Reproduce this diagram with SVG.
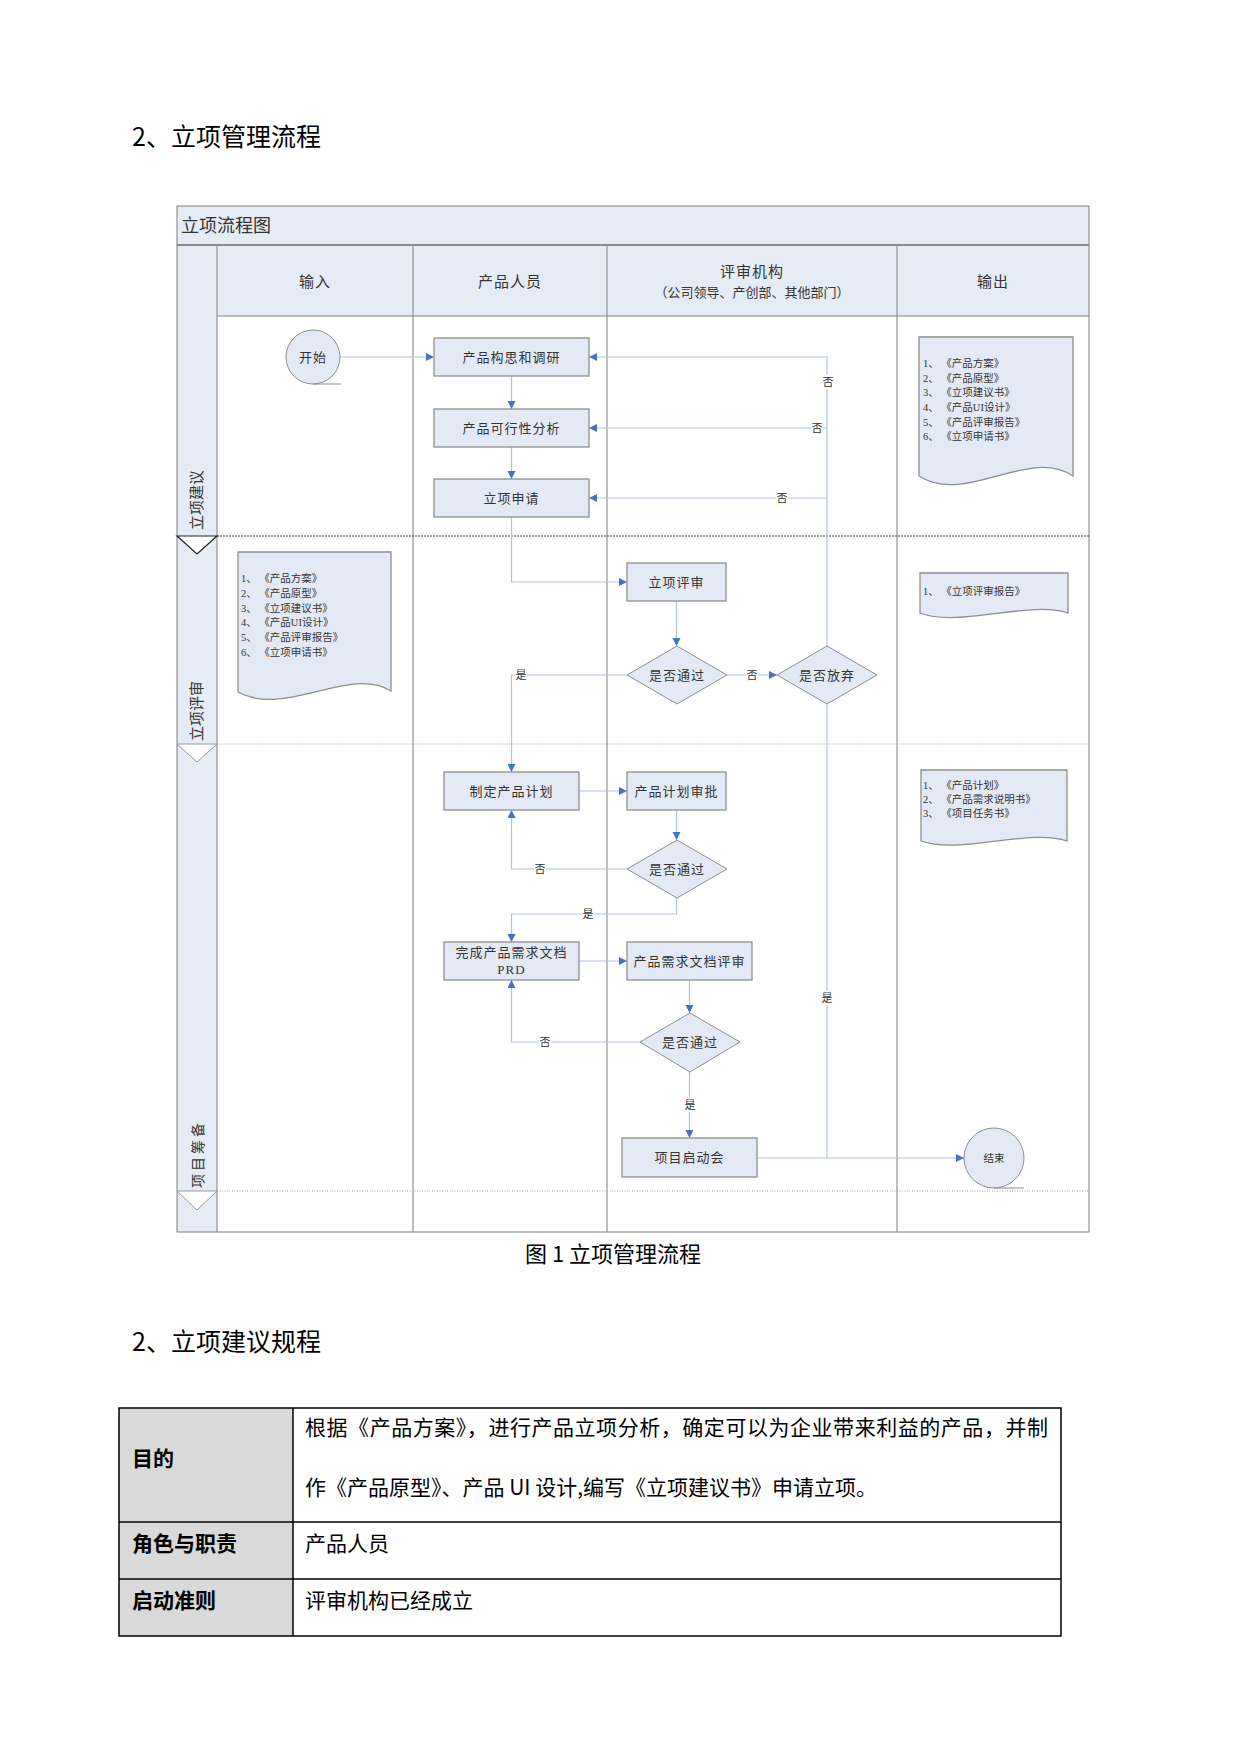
<svg xmlns="http://www.w3.org/2000/svg" width="1241" height="1755" viewBox="0 0 1241 1755">
<style>
.doc-h{font-family:"Noto Sans CJK SC","Liberation Sans",sans-serif;fill:#000}
.dg{font-family:"Liberation Serif","Noto Sans CJK SC",sans-serif;fill:#333}
.box{fill:#E4EAF5;stroke:#8E8E8E;stroke-width:1.3}
.dia{fill:#E4EAF5;stroke:#8E8E8E;stroke-width:1}
.band{fill:#E6ECF6}
.grid{stroke:#7F7F7F;stroke-width:1;fill:none}
.con{stroke:#AFC3E6;stroke-width:1.2;fill:none}
.lbl{font-size:11px;text-anchor:middle;dominant-baseline:central}
.lblbg{fill:#fff}
.t13{font-size:13px;text-anchor:middle;dominant-baseline:central;letter-spacing:1px}
.doct{font-size:10.5px;fill:#333}
.cell{stroke:#000;stroke-width:1.5;fill:none}
</style>
<defs>
<marker id="arr" markerUnits="userSpaceOnUse" markerWidth="9" markerHeight="9" refX="8" refY="4" orient="auto">
<path d="M0,0 L8,4 L0,8 z" fill="#4472C4"/>
</marker>
</defs>
<rect width="1241" height="1755" fill="#fff"/>

<text class="doc-h" x="132" y="146" font-size="25">2、立项管理流程</text>

<g id="frame">
<rect x="177" y="206" width="912" height="39" class="band"/>
<rect x="177" y="245" width="40" height="987" class="band"/>
<rect x="217" y="245" width="872" height="71" class="band"/>
<text class="dg" x="181" y="226" font-size="18" dominant-baseline="central">立项流程图</text>
<rect x="177" y="206" width="912" height="1026" class="grid"/>
<line x1="177" y1="245" x2="1089" y2="245" stroke="#8A8A8A" stroke-width="2.2"/>
<line x1="217" y1="245" x2="217" y2="1232" class="grid"/>
<line x1="217" y1="316" x2="1089" y2="316" class="grid"/>
<line x1="413" y1="245" x2="413" y2="1232" class="grid"/>
<line x1="607" y1="245" x2="607" y2="1232" class="grid" stroke-width="1.4"/>
<line x1="897" y1="245" x2="897" y2="1232" class="grid"/>
<line x1="217" y1="536" x2="1089" y2="536" stroke="#444" stroke-width="1" stroke-dasharray="2,1"/>
<line x1="217" y1="744" x2="1089" y2="744" stroke="#A0A0A0" stroke-width="1" stroke-dasharray="1,1.5"/>
<line x1="217" y1="1191" x2="1089" y2="1191" stroke="#A0A0A0" stroke-width="1" stroke-dasharray="1,1.5"/>
<polygon points="177,536 197,554 217,536" fill="#fff" stroke="#222" stroke-width="1.2"/>
<polygon points="177,744 197,762 217,744" fill="#fff" stroke="#999" stroke-width="1"/>
<polygon points="177,1191 197,1210 217,1191" fill="#fff" stroke="#999" stroke-width="1"/>
<text class="dg" font-size="15" text-anchor="middle" dominant-baseline="central" transform="translate(197,500) rotate(-90)">立项建议</text>
<text class="dg" font-size="15" text-anchor="middle" dominant-baseline="central" transform="translate(197,711) rotate(-90)">立项评审</text>
<text class="dg" font-size="14" text-anchor="middle" dominant-baseline="central" letter-spacing="3" transform="translate(198,1154) rotate(-90)">项目筹备</text>
<text class="dg" x="315" y="282" font-size="15" text-anchor="middle" dominant-baseline="central" letter-spacing="1">输入</text>
<text class="dg" x="510" y="282" font-size="15" text-anchor="middle" dominant-baseline="central" letter-spacing="1">产品人员</text>
<text class="dg" x="752" y="272" font-size="15" text-anchor="middle" dominant-baseline="central" letter-spacing="1">评审机构</text>
<text class="dg" x="752" y="292" font-size="13" text-anchor="middle" dominant-baseline="central">（公司领导、产创部、其他部门）</text>
<text class="dg" x="993" y="282" font-size="15" text-anchor="middle" dominant-baseline="central" letter-spacing="1">输出</text>
</g>

<g id="connectors">
<line x1="340" y1="357" x2="434" y2="357" class="con" marker-end="url(#arr)"/>
<line x1="511.5" y1="376" x2="511.5" y2="409" class="con" marker-end="url(#arr)"/>
<line x1="511.5" y1="447" x2="511.5" y2="479" class="con" marker-end="url(#arr)"/>
<path d="M511.5,517 V582 H627" class="con" marker-end="url(#arr)"/>
<line x1="676.5" y1="601" x2="676.5" y2="646" class="con" marker-end="url(#arr)"/>
<line x1="727" y1="675" x2="777" y2="675" class="con" marker-end="url(#arr)"/>
<path d="M627,675 H511.5 V772" class="con" marker-end="url(#arr)"/>
<path d="M827,646 V357 H589" class="con" marker-end="url(#arr)"/>
<path d="M827,428 H589" class="con" marker-end="url(#arr)"/>
<path d="M827,498 H589" class="con" marker-end="url(#arr)"/>
<path d="M827,704 V1158" class="con"/>
<line x1="579" y1="791" x2="627" y2="791" class="con" marker-end="url(#arr)"/>
<line x1="676.5" y1="810" x2="676.5" y2="840" class="con" marker-end="url(#arr)"/>
<path d="M627,869 H511.5 V810" class="con" marker-end="url(#arr)"/>
<path d="M676.5,898 V914 H511.5 V942" class="con" marker-end="url(#arr)"/>
<line x1="579" y1="961" x2="627" y2="961" class="con" marker-end="url(#arr)"/>
<line x1="689.5" y1="980" x2="689.5" y2="1013" class="con" marker-end="url(#arr)"/>
<path d="M640,1042 H511.5 V980" class="con" marker-end="url(#arr)"/>
<line x1="689.5" y1="1072" x2="689.5" y2="1138" class="con" marker-end="url(#arr)"/>
<line x1="757" y1="1158" x2="964" y2="1158" class="con" marker-end="url(#arr)"/>
<g class="dg">
<rect x="822" y="375" width="12" height="14" class="lblbg"/><text class="lbl" x="828" y="382">否</text>
<rect x="811" y="421" width="12" height="14" class="lblbg"/><text class="lbl" x="817" y="428">否</text>
<rect x="776" y="491" width="12" height="14" class="lblbg"/><text class="lbl" x="782" y="498">否</text>
<rect x="746" y="668" width="12" height="14" class="lblbg"/><text class="lbl" x="752" y="675">否</text>
<rect x="515" y="668" width="12" height="14" class="lblbg"/><text class="lbl" x="521" y="675">是</text>
<rect x="534" y="862" width="12" height="14" class="lblbg"/><text class="lbl" x="540" y="869">否</text>
<rect x="582" y="907" width="12" height="14" class="lblbg"/><text class="lbl" x="588" y="914">是</text>
<rect x="539" y="1035" width="12" height="14" class="lblbg"/><text class="lbl" x="545" y="1042">否</text>
<rect x="821" y="991" width="12" height="14" class="lblbg"/><text class="lbl" x="827" y="998">是</text>
<rect x="684" y="1098" width="12" height="14" class="lblbg"/><text class="lbl" x="690" y="1105">是</text>
</g>
</g>

<g id="start">
<circle cx="313" cy="357" r="27" class="dia"/>
<line x1="313" y1="384" x2="341" y2="384" stroke="#8E8E8E"/>
<text class="dg t13" x="313" y="357">开始</text>
</g>
<g id="n1"><rect x="434" y="338" width="155" height="38" class="box"/><text class="dg t13" x="511.5" y="357">产品构思和调研</text></g>
<g id="n2"><rect x="434" y="409" width="155" height="38" class="box"/><text class="dg t13" x="511.5" y="428">产品可行性分析</text></g>
<g id="n3"><rect x="434" y="479" width="155" height="38" class="box"/><text class="dg t13" x="511.5" y="498">立项申请</text></g>
<g id="n4"><rect x="627" y="563" width="99" height="38" class="box"/><text class="dg t13" x="676.5" y="582">立项评审</text></g>
<g id="d1"><polygon points="627,675 677,646 727,675 677,704" class="dia"/><text class="dg t13" x="677" y="675">是否通过</text></g>
<g id="d2"><polygon points="777,675 827,646 877,675 827,704" class="dia"/><text class="dg t13" x="827" y="675">是否放弃</text></g>
<g id="n5"><rect x="444" y="772" width="135" height="38" class="box"/><text class="dg t13" x="511.5" y="791">制定产品计划</text></g>
<g id="n6"><rect x="627" y="772" width="99" height="38" class="box"/><text class="dg t13" x="676.5" y="791">产品计划审批</text></g>
<g id="d3"><polygon points="627,869 677,840 727,869 677,898" class="dia"/><text class="dg t13" x="677" y="869">是否通过</text></g>
<g id="n7"><rect x="444" y="942" width="135" height="38" class="box"/><text class="dg t13" x="511.5" y="952">完成产品需求文档</text><text class="dg t13" x="511.5" y="969" letter-spacing="0">PRD</text></g>
<g id="n8"><rect x="627" y="942" width="125" height="38" class="box"/><text class="dg t13" x="689.5" y="961">产品需求文档评审</text></g>
<g id="d4"><polygon points="640,1042 690,1013 740,1042 690,1072" class="dia"/><text class="dg t13" x="690" y="1042">是否通过</text></g>
<g id="n9"><rect x="622" y="1138" width="135" height="39" class="box"/><text class="dg t13" x="689.5" y="1157.5">项目启动会</text></g>
<g id="end">
<circle cx="994" cy="1158" r="30" class="dia"/>
<line x1="994" y1="1188" x2="1024" y2="1188" stroke="#8E8E8E"/>
<text class="dg" x="994" y="1158" font-size="10.5" text-anchor="middle" dominant-baseline="central">结束</text>
</g>

<g id="doc-in">
<path d="M238,552 H391 V691 C350,665 285,718 238,692 Z" class="box"/>
<g class="dg doct">
<text x="241" y="582">1、 《产品方案》</text>
<text x="241" y="597">2、 《产品原型》</text>
<text x="241" y="612">3、 《立项建议书》</text>
<text x="241" y="626">4、 《产品UI设计》</text>
<text x="241" y="641">5、 《产品评审报告》</text>
<text x="241" y="656">6、 《立项申请书》</text>
</g>
</g>
<g id="doc-out1">
<path d="M919,337 H1073 V476 C1030,446 965,506 919,476 Z" class="box"/>
<g class="dg doct">
<text x="923" y="367">1、 《产品方案》</text>
<text x="923" y="382">2、 《产品原型》</text>
<text x="923" y="396">3、 《立项建议书》</text>
<text x="923" y="411">4、 《产品UI设计》</text>
<text x="923" y="426">5、 《产品评审报告》</text>
<text x="923" y="440">6、 《立项申请书》</text>
</g>
</g>
<g id="doc-out2">
<path d="M920,573 H1068 V613 C1030,600 960,628 920,613 Z" class="box"/>
<text class="dg doct" x="923" y="595">1、 《立项评审报告》</text>
</g>
<g id="doc-out3">
<path d="M921,770 H1067 V841 C1030,828 960,855 921,841 Z" class="box"/>
<g class="dg doct">
<text x="923" y="789">1、 《产品计划》</text>
<text x="923" y="803">2、 《产品需求说明书》</text>
<text x="923" y="817">3、 《项目任务书》</text>
</g>
</g>

<text class="doc-h" x="613" y="1262" font-size="22" text-anchor="middle">图 1 立项管理流程</text>

<text class="doc-h" x="132" y="1351" font-size="25">2、立项建议规程</text>

<g id="table">
<rect x="119" y="1408" width="174" height="228" fill="#D9D9D9"/>
<rect x="119" y="1408" width="942" height="228" class="cell"/>
<line x1="293" y1="1408" x2="293" y2="1636" class="cell"/>
<line x1="119" y1="1522" x2="1061" y2="1522" class="cell"/>
<line x1="119" y1="1579" x2="1061" y2="1579" class="cell"/>
<g class="doc-h" font-size="21">
<text x="132" y="1466" font-weight="bold">目的</text>
<text x="132" y="1551" font-weight="bold">角色与职责</text>
<text x="132" y="1608" font-weight="bold">启动准则</text>
<text x="305" y="1435" textLength="743" lengthAdjust="spacing">根据《产品方案》，进行产品立项分析，确定可以为企业带来利益的产品，并制</text>
<text x="305" y="1495">作《产品原型》、产品 UI 设计,编写《立项建议书》申请立项。</text>
<text x="305" y="1551">产品人员</text>
<text x="305" y="1608">评审机构已经成立</text>
</g>
</g>
</svg>
